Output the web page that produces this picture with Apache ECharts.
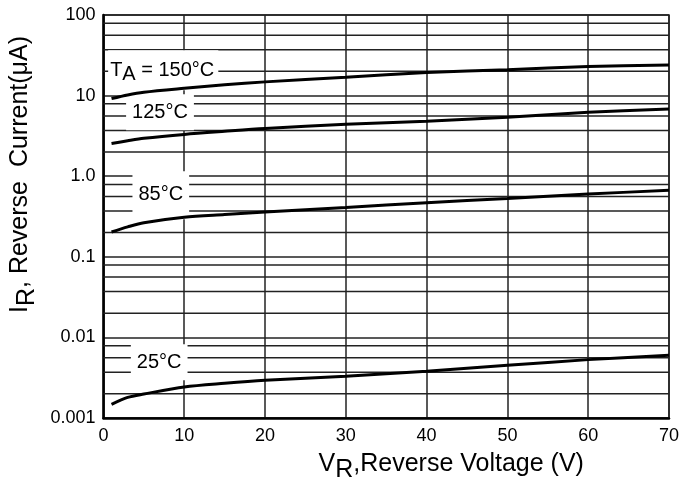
<!DOCTYPE html>
<html><head><meta charset="utf-8">
<script src="https://cdn.jsdelivr.net/npm/echarts@6/dist/echarts.min.js"></script>
<style>html,body{margin:0;padding:0;background:#fff}#c{width:698px;height:488px}</style>
</head><body><div id="c"></div>
<script>
// ---- data ----
const voltage = [1, 3, 5, 10, 15, 20, 30, 40, 50, 60, 70];
const ir150 = [9.2, 10.2, 11.0, 12.3, 13.6, 14.8, 16.9, 19.3, 21.0, 23.0, 24.0];
const ir125 = [2.54, 2.75, 2.95, 3.3, 3.6, 3.9, 4.4, 4.8, 5.4, 6.2, 6.8];
const ir85  = [0.203, 0.235, 0.265, 0.31, 0.335, 0.36, 0.41, 0.47, 0.53, 0.60, 0.67];
const ir25  = [0.00148, 0.0018, 0.00198, 0.00243, 0.0027, 0.00294, 0.0033, 0.0038, 0.0045, 0.0053, 0.0060];
const xTickLabels = ['0','10','20','30','40','50','60','70'];
const yTickValues = [0.001, 0.01, 0.1, 1, 10, 100];
const yTickLabels = ['0.001','0.01','0.1','1.0','10','100'];
const minorGridFactors = [2, 3.7, 5.6, 7.9];
const curveLabelTexts = ['150', '125°C', '85°C', '25°C'];
const curveLabelX = [7.4, 7.0, 7.1, 6.9];
const curveLabelY = [20.6, 6.2, 0.58, 0.0049];

// ---- chart ----
const FONT = "'Liberation Sans', Arial, sans-serif";
const chart = echarts.init(document.getElementById('c'), null, {renderer: 'canvas'});
function pair(xs, ys) { return xs.map((x, i) => [x, ys[i]]); }

const gridSeries = [];
yTickValues.slice(0, -1).forEach(d => minorGridFactors.forEach(f => {
  gridSeries.push({type: 'line', silent: true, z: 1, showSymbol: false, symbol: 'none',
    lineStyle: {color: '#222', width: 1.5}, animation: false,
    data: [[0, d * f], [70, d * f]]});
}));

const curveStyle = {type: 'line', smooth: 0.3, showSymbol: false, symbol: 'none',
  lineStyle: {color: '#000', width: 3}, z: 5, animation: false};

const labelData = curveLabelTexts.map((t, i) => {
  const text = i === 0 ? '{t|T}{s|A}{t| = 150°C}' : '{t|' + t + '}';
  return {
    value: [curveLabelX[i], curveLabelY[i]],
    label: {padding: i === 0 ? [6, 4, 6, 2] : (i === 2 ? [9, 6, 11, 6] : [4, 6, 4, 6]), formatter: text}
  };
});

const nameRich = {
  a: {fontSize: 25, fontFamily: FONT, color: '#000', lineHeight: 38, verticalAlign: 'middle'},
  s: {fontSize: 25, fontFamily: FONT, color: '#000', lineHeight: 25, verticalAlign: 'bottom'}
};

const option = {
  backgroundColor: '#fff',
  animation: false,
  grid: {left: 98, right: 29, top: 15, bottom: 70, show: true, borderColor: '#222', borderWidth: 1.5},
  xAxis: {
    type: 'value', min: 0, max: 70, interval: 10,
    axisLine: {show: true, lineStyle: {color: '#000', width: 2.5}},
    axisTick: {show: false},
    axisLabel: {fontSize: 18, color: '#000', fontFamily: FONT, margin: 9,
      formatter: v => xTickLabels[Math.round(v / 10)]},
    splitLine: {show: true, lineStyle: {color: '#222', width: 1.5}},
    name: '{a|V}{s|R}{a|,Reverse Voltage (V)}',
    nameLocation: 'middle', nameGap: 27,
    nameTextStyle: {padding: [0, 0, 0, 130], rich: nameRich}
  },
  yAxis: {
    type: 'log', logBase: 10, min: 0.001, max: 100,
    axisLine: {show: true, lineStyle: {color: '#000', width: 2.5}},
    axisTick: {show: false},
    minorTick: {show: false},
    axisLabel: {fontSize: 18, color: '#000', fontFamily: FONT, margin: 8,
      formatter: v => {
        const k = yTickValues.findIndex(t => Math.abs(Math.log10(t) - Math.log10(v)) < 1e-6);
        return k >= 0 ? yTickLabels[k] : '';
      }},
    splitLine: {show: true, lineStyle: {color: '#222', width: 1.5}},
    name: '{a|I}{s|R}{a|, Reverse  Current(μA)}',
    nameLocation: 'middle', nameRotate: 90, nameGap: 50,
    nameTextStyle: {padding: [0, 0, 0, 84], rich: nameRich}
  },
  series: gridSeries.concat([
    Object.assign({name: '150', data: pair(voltage, ir150)}, curveStyle),
    Object.assign({name: '125', data: pair(voltage, ir125)}, curveStyle),
    Object.assign({name: '85', data: pair(voltage, ir85)}, curveStyle),
    Object.assign({name: '25', data: pair(voltage, ir25)}, curveStyle),
    {type: 'scatter', z: 4, symbolSize: 1, itemStyle: {color: 'rgba(255,255,255,0)'}, silent: true,
      label: {show: true, position: 'inside', backgroundColor: '#fff', color: '#000',
        textBorderWidth: 0, opacity: 1,
        rich: {t: {fontSize: 20, fontFamily: FONT, color: '#000', lineHeight: 28, verticalAlign: 'middle', textBorderWidth: 0},
               s: {fontSize: 20, fontFamily: FONT, color: '#000', lineHeight: 20, verticalAlign: 'bottom', textBorderWidth: 0}}},
      data: labelData}
  ])
};
chart.setOption(option);
</script></body></html>
